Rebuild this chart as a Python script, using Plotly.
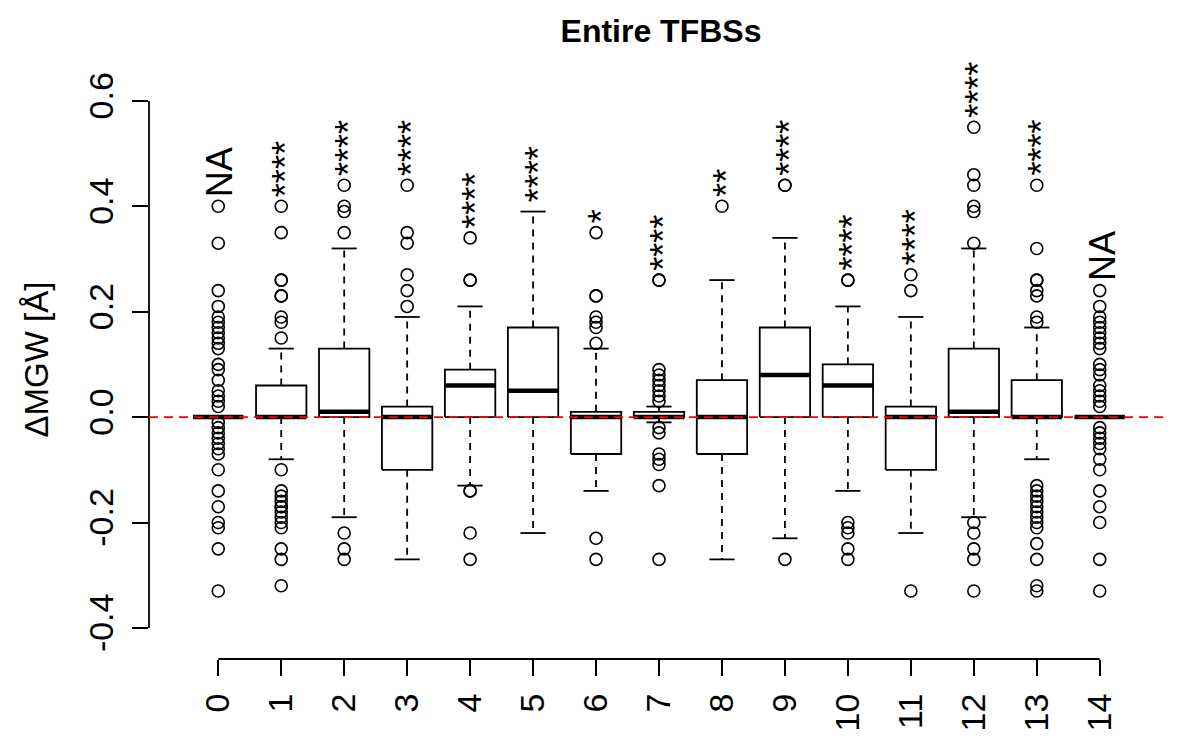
import plotly.graph_objects as go

# ---------------- data ----------------
categories = ["0", "1", "2", "3", "4", "5", "6", "7", "8", "9", "10", "11", "12", "13", "14"]
q1 = [0, 0, 0, -0.10, 0, 0, -0.07, 0, -0.07, 0, 0, -0.10, 0, 0, 0]
med = [0, 0, 0.01, 0, 0.06, 0.05, 0, 0, 0, 0.08, 0.06, 0, 0.01, 0, 0]
q3 = [0, 0.06, 0.13, 0.02, 0.09, 0.17, 0.01, 0.01, 0.07, 0.17, 0.10, 0.02, 0.13, 0.07, 0]
lo = [0, -0.08, -0.19, -0.27, -0.13, -0.22, -0.14, -0.01, -0.27, -0.23, -0.14, -0.22, -0.19, -0.08, 0]
hi = [0, 0.13, 0.32, 0.19, 0.21, 0.39, 0.13, 0.02, 0.26, 0.34, 0.21, 0.19, 0.32, 0.17, 0]

outliers = [
    [0.40, 0.33, 0.24, 0.21, 0.19, 0.18, 0.17, 0.16, 0.15, 0.14, 0.13, 0.10, 0.09, 0.07, 0.05, 0.04,
     0.03, 0.02, -0.01, -0.02, -0.03, -0.04, -0.05, -0.06, -0.07, -0.10, -0.14, -0.17, -0.20, -0.21,
     -0.25, -0.33],
    [0.40, 0.35, 0.26, 0.26, 0.23, 0.23, 0.19, 0.18, 0.15, -0.10, -0.14, -0.15, -0.16, -0.17, -0.17,
     -0.18, -0.19, -0.20, -0.21, -0.25, -0.27, -0.32],
    [0.44, 0.40, 0.39, 0.35, -0.22, -0.25, -0.27],
    [0.44, 0.35, 0.33, 0.27, 0.24, 0.21],
    [0.34, 0.26, 0.26, -0.14, -0.14, -0.22, -0.27],
    [],
    [0.35, 0.23, 0.23, 0.19, 0.18, 0.17, 0.14, -0.23, -0.27],
    [0.26, 0.26, 0.09, 0.08, 0.07, 0.06, 0.05, 0.04, 0.03, -0.02, -0.03, -0.07, -0.08, -0.09, -0.13, -0.27],
    [0.40],
    [0.44, 0.44, -0.27],
    [0.26, 0.26, -0.20, -0.21, -0.22, -0.25, -0.27],
    [0.27, 0.24, -0.33],
    [0.55, 0.46, 0.44, 0.40, 0.39, 0.33, -0.20, -0.22, -0.25, -0.27, -0.33],
    [0.44, 0.32, 0.26, 0.26, 0.24, 0.23, 0.19, 0.18, -0.13, -0.14, -0.15, -0.16, -0.17, -0.18, -0.19,
     -0.20, -0.21, -0.24, -0.27, -0.32, -0.33],
    [0.24, 0.21, 0.19, 0.18, 0.17, 0.16, 0.15, 0.14, 0.13, 0.10, 0.09, 0.08, 0.06, 0.05, 0.04, 0.03,
     0.02, -0.02, -0.03, -0.04, -0.05, -0.06, -0.08, -0.10, -0.14, -0.17, -0.20, -0.27, -0.33],
]
significance = ["NA", "****", "****", "****", "****", "****", "*", "****", "**", "****", "****",
                "****", "****", "****", "NA"]

y_ticks = [-0.4, -0.2, 0.0, 0.2, 0.4, 0.6]
y_tick_labels = ["-0.4", "-0.2", "0.0", "0.2", "0.4", "0.6"]
title_text = "Entire TFBSs"
y_title = "ΔMGW [Å]"

# ---------------- style ----------------
FONT = "Liberation Sans, Arial, Helvetica, sans-serif"
BOXWEX = 0.4      # half box width (category units)
STAPLE = 0.2      # half staple width
LW = 1.8
PAGE_OFFSET = 8   # default body margin of the html page
FIG_W, FIG_H = 1200 - PAGE_OFFSET, 750 - PAGE_OFFSET

xpos = list(range(len(categories)))

fig = go.Figure()

box_x, box_y = [], []
med_x, med_y = [], []
wh_x, wh_y = [], []
st_x, st_y = [], []
for i, x in enumerate(xpos):
    box_x += [x - BOXWEX, x + BOXWEX, x + BOXWEX, x - BOXWEX, x - BOXWEX, None]
    box_y += [q1[i], q1[i], q3[i], q3[i], q1[i], None]
    med_x += [x - BOXWEX, x + BOXWEX, None]
    med_y += [med[i], med[i], None]
    wh_x += [x, x, None, x, x, None]
    wh_y += [q3[i], hi[i], None, q1[i], lo[i], None]
    st_x += [x - STAPLE, x + STAPLE, None, x - STAPLE, x + STAPLE, None]
    st_y += [hi[i], hi[i], None, lo[i], lo[i], None]

fig.add_trace(go.Scatter(x=wh_x, y=wh_y, mode="lines",
                         line=dict(color="black", width=LW, dash="7px,6px"), hoverinfo="skip"))
fig.add_trace(go.Scatter(x=st_x, y=st_y, mode="lines",
                         line=dict(color="black", width=LW), hoverinfo="skip"))
fig.add_trace(go.Scatter(x=box_x, y=box_y, mode="lines", fill="toself", fillcolor="white",
                         line=dict(color="black", width=LW), hoverinfo="skip"))
fig.add_trace(go.Scatter(x=med_x, y=med_y, mode="lines",
                         line=dict(color="black", width=4.5), hoverinfo="skip"))

ox, oy = [], []
for i, x in enumerate(xpos):
    for v in outliers[i]:
        ox.append(x)
        oy.append(v)
fig.add_trace(go.Scatter(x=ox, y=oy, mode="markers",
                         marker=dict(symbol="circle-open", size=12, color="black",
                                     line=dict(width=1.6, color="black"))))

# significance labels
annotations = []
for i, x in enumerate(xpos):
    top = max([hi[i]] + outliers[i])
    is_na = significance[i] == "NA"
    annotations.append(dict(
        x=x, y=top + 0.014, xref="x", yref="y", text=significance[i], showarrow=False,
        textangle=-90, xanchor="center", yanchor="bottom",
        xshift=2 if is_na else 5,
        font=dict(family=FONT, size=36, color="black")))

# y-axis title
annotations.append(dict(x=0, y=0.5, xref="paper", yref="paper", text=y_title, showarrow=False,
                        textangle=-90, xanchor="center", yanchor="middle", xshift=-113,
                        font=dict(family=FONT, size=33, color="black")))

shapes = [
    # R-style detached axis lines spanning the tick range
    dict(type="line", xref="paper", yref="y", x0=0, x1=0, y0=min(y_ticks), y1=max(y_ticks),
         line=dict(color="black", width=LW)),
    dict(type="line", xref="x", yref="paper", x0=min(xpos), x1=max(xpos), y0=0, y1=0,
         line=dict(color="black", width=LW)),
    # reference line at zero
    dict(type="line", xref="paper", yref="y", x0=0, x1=1, y0=0, y1=0, layer="above",
         line=dict(color="red", width=1.6, dash="9px,6px")),
]

ML, MT = 149 - PAGE_OFFSET, 60 - PAGE_OFFSET
MR = FIG_W - ML - 1020
MB = FIG_H - MT - 599

fig.update_layout(
    width=FIG_W, height=FIG_H,
    margin=dict(l=ML, r=MR, t=MT, b=MB, autoexpand=False),
    paper_bgcolor="white", plot_bgcolor="white",
    showlegend=False,
    title=dict(text="<b>%s</b>" % title_text, x=(661 - PAGE_OFFSET) / FIG_W, xanchor="center",
               y=1 - (31 - PAGE_OFFSET) / FIG_H, yanchor="middle", yref="container",
               automargin=False,
               font=dict(family=FONT, size=32, color="black")),
    xaxis=dict(range=[-1.1, 15.1], tickmode="array", tickvals=xpos, ticktext=categories,
               tickangle=-90, ticks="outside", ticklen=16, tickwidth=LW, tickcolor="black",
               showgrid=False, zeroline=False, showline=False, ticklabelstandoff=4,
               automargin=False,
               tickfont=dict(family=FONT, size=34, color="black")),
    yaxis=dict(range=[-0.459, 0.6776], tickmode="array", tickvals=y_ticks, ticktext=y_tick_labels,
               tickangle=-90, ticks="outside", ticklen=16, tickwidth=LW, tickcolor="black",
               showgrid=False, zeroline=False, showline=False, ticklabelstandoff=5,
               automargin=False,
               tickfont=dict(family=FONT, size=34, color="black")),
    shapes=shapes,
    annotations=annotations,
)

fig.write_html("out.html")
